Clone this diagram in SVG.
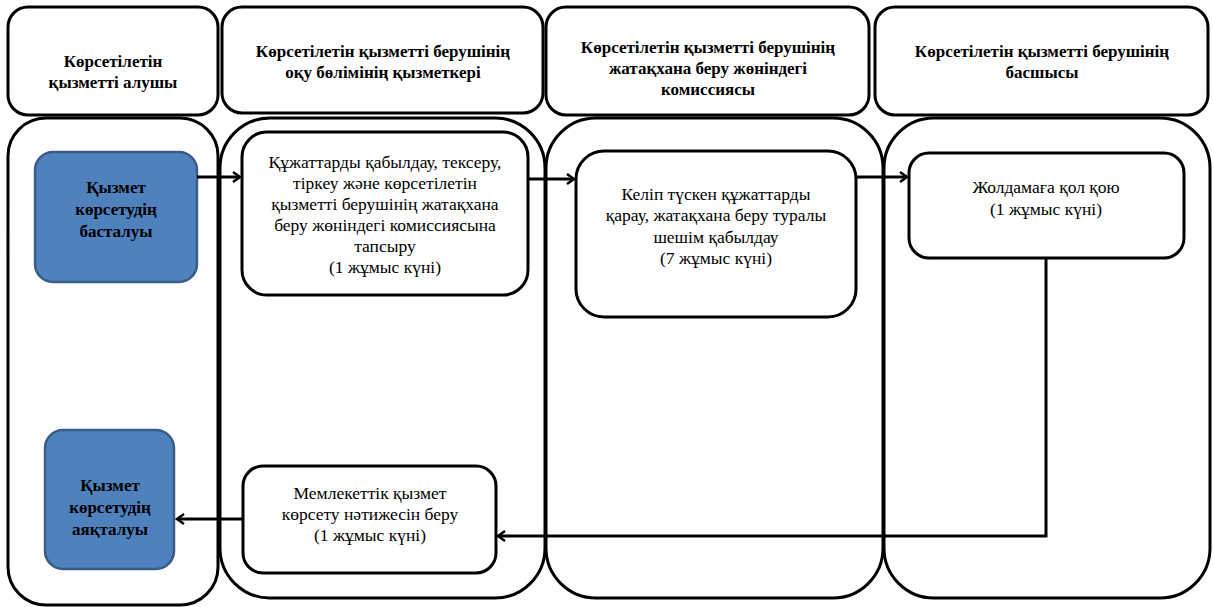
<svg xmlns="http://www.w3.org/2000/svg" width="1213" height="607" viewBox="0 0 1213 607">
<style>
.hdr{fill:#fff;stroke:#000;stroke-width:3}
.lane{fill:#fff;stroke:#000;stroke-width:3}
.box{fill:#fff;stroke:#000;stroke-width:3}
.blue{fill:#4f81bd;stroke:#385d8a;stroke-width:2.5}
.t{font-family:"Liberation Serif",serif;font-size:17.5px;fill:#000;text-anchor:middle}
.b{font-family:"Liberation Serif",serif;font-weight:bold;font-size:17px;fill:#000;text-anchor:middle}
.conn{fill:none;stroke:#000;stroke-width:3}
</style>
<defs>
<marker id="ah" markerWidth="12" markerHeight="12" refX="9" refY="6" orient="auto" markerUnits="userSpaceOnUse">
<path d="M2,1 L9,6 L2,11" fill="none" stroke="#000" stroke-width="2.5"/>
</marker>
</defs>
<g id="lanes">
<rect class="lane" x="8" y="118" width="210" height="487" rx="38"/>
<rect class="lane" x="220" y="118" width="325" height="480" rx="50"/>
<rect class="lane" x="546" y="118" width="337" height="480" rx="50"/>
<rect class="lane" x="884" y="118" width="326" height="480" rx="50"/>
</g>
<g id="header1"><rect class="hdr" x="8" y="7" width="210" height="108" rx="20"/>
<text class="b" font-family="Liberation Serif" x="113" y="67">Көрсетілетін</text><text class="b" font-family="Liberation Serif" x="113" y="88">қызметті алушы</text></g>
<g id="header2"><rect class="hdr" x="222" y="7" width="321" height="106" rx="20"/>
<text class="b" font-family="Liberation Serif" x="383" y="57">Көрсетілетін қызметті берушінің</text><text class="b" font-family="Liberation Serif" x="383" y="78">оқу бөлімінің қызметкері</text></g>
<g id="header3"><rect class="hdr" x="546" y="7" width="323" height="108" rx="20"/>
<text class="b" font-family="Liberation Serif" x="708" y="53">Көрсетілетін қызметті берушінің</text><text class="b" font-family="Liberation Serif" x="708" y="74">жатақхана беру жөніндегі</text><text class="b" font-family="Liberation Serif" x="708" y="95">комиссиясы</text></g>
<g id="header4"><rect class="hdr" x="875" y="7" width="333" height="108" rx="20"/>
<text class="b" font-family="Liberation Serif" x="1042" y="57">Көрсетілетін қызметті берушінің</text><text class="b" font-family="Liberation Serif" x="1042" y="78">басшысы</text></g>

<g id="start"><rect class="blue" x="35" y="152" width="162" height="130" rx="18"/>
<text class="b" font-family="Liberation Serif" x="116" y="193">Қызмет</text><text class="b" font-family="Liberation Serif" x="116" y="215">көрсетудің</text><text class="b" font-family="Liberation Serif" x="116" y="237">басталуы</text></g>
<g id="nodeA"><rect class="box" x="242" y="132" width="286" height="163" rx="25"/>
<text class="t" font-family="Liberation Serif" x="385" y="168">Құжаттарды қабылдау, тексеру,</text><text class="t" font-family="Liberation Serif" x="385" y="189">тіркеу және көрсетілетін</text><text class="t" font-family="Liberation Serif" x="385" y="210">қызметті берушінің жатақхана</text><text class="t" font-family="Liberation Serif" x="385" y="231">беру жөніндегі комиссиясына</text><text class="t" font-family="Liberation Serif" x="385" y="252">тапсыру</text><text class="t" font-family="Liberation Serif" x="385" y="273">(1 жұмыс күні)</text></g>
<g id="nodeB"><rect class="box" x="576" y="151" width="280" height="166" rx="28"/>
<text class="t" font-family="Liberation Serif" x="716" y="200">Келіп түскен құжаттарды</text><text class="t" font-family="Liberation Serif" x="716" y="221">қарау, жатақхана беру туралы</text><text class="t" font-family="Liberation Serif" x="716" y="243">шешім қабылдау</text><text class="t" font-family="Liberation Serif" x="716" y="264">(7 жұмыс күні)</text></g>
<g id="nodeC"><rect class="box" x="909" y="153" width="275" height="105" rx="20"/>
<text class="t" font-family="Liberation Serif" x="1046" y="193">Жолдамаға қол қою</text><text class="t" font-family="Liberation Serif" x="1046" y="215">(1 жұмыс күні)</text></g>
<g id="end"><rect class="blue" x="45" y="430" width="129" height="139" rx="18"/>
<text class="b" font-family="Liberation Serif" x="110" y="491">Қызмет</text><text class="b" font-family="Liberation Serif" x="110" y="513">көрсетудің</text><text class="b" font-family="Liberation Serif" x="110" y="535">аяқталуы</text></g>
<g id="nodeD"><rect class="box" x="243" y="466" width="253" height="107" rx="20"/>
<text class="t" font-family="Liberation Serif" x="370" y="499">Мемлекеттік қызмет</text><text class="t" font-family="Liberation Serif" x="370" y="520">көрсету нәтижесін беру</text><text class="t" font-family="Liberation Serif" x="370" y="541">(1 жұмыс күні)</text></g>
<g id="connectors">
<line class="conn" x1="197" y1="177" x2="240" y2="177" marker-end="url(#ah)"/>
<line class="conn" x1="528" y1="179" x2="574" y2="179" marker-end="url(#ah)"/>
<line class="conn" x1="856" y1="177" x2="907" y2="177" marker-end="url(#ah)"/>
<polyline class="conn" points="1046,258 1046,536 498,536" marker-end="url(#ah)"/>
<line class="conn" x1="243" y1="519" x2="177" y2="519" marker-end="url(#ah)"/>
</g>
</svg>
